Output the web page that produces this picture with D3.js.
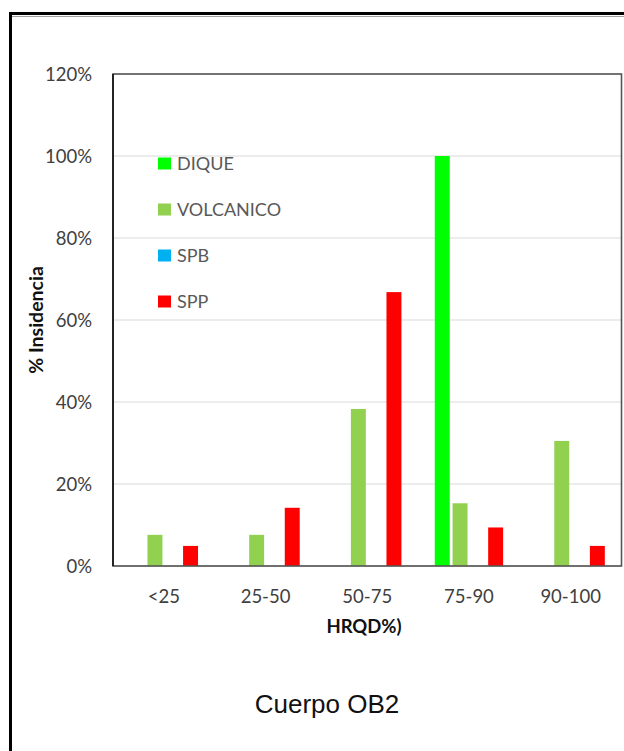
<!DOCTYPE html>
<html>
<head>
<meta charset="utf-8">
<script src="https://cdn.jsdelivr.net/npm/d3@7"></script>
<style>
  html, body { margin: 0; padding: 0; background: #fff; }
  svg { display: block; }
</style>
</head>
<body>
<svg id="chart" width="624" height="751"></svg>
<script>
const categories = ["<25", "25-50", "50-75", "75-90", "90-100"];
const seriesNames = ["DIQUE", "VOLCANICO", "SPB", "SPP"];
const dique     = [0, 0, 0, 1.00, 0];
const volcanico = [0.076, 0.076, 0.383, 0.153, 0.305];
const spb       = [0, 0, 0, 0, 0];
const spp       = [0.049, 0.142, 0.668, 0.094, 0.049];
const yTicks = [0, 0.2, 0.4, 0.6, 0.8, 1.0, 1.2];
const colors = ["#00ff00", "#92d050", "#00b0f0", "#ff0000"];
const title = "Cuerpo OB2";
const xTitle = "HRQD%)";
const yTitle = "% Insidencia";

const seriesValues = [dique, volcanico, spb, spp];
const rows = categories.map((c, i) => ({
  cat: c,
  vals: seriesNames.map((s, j) => ({ key: s, value: seriesValues[j][i], color: colors[j] }))
}));

const svg = d3.select("#chart");
const plot = { left: 113, right: 621.5, top: 74, bottom: 566 };
const FONT = "Lato, 'Open Sans', sans-serif";

// outer frame
svg.append("rect")
  .attr("x", 10.5).attr("y", 13.5)
  .attr("width", 700).attr("height", 800)
  .attr("fill", "none").attr("stroke", "#000").attr("stroke-width", 3);
svg.append("line")
  .attr("x1", 12).attr("x2", 624).attr("y1", 16.5).attr("y2", 16.5)
  .attr("stroke", "#a0a0a0").attr("stroke-width", 1);

const x0 = d3.scaleBand().domain(categories).range([plot.left, plot.right]).paddingInner(0).paddingOuter(0);
const bw = x0.bandwidth();
const x1 = d3.scaleBand().domain(seriesNames)
  .range([bw / 2 - 35.6, bw / 2 + 35.6])
  .paddingInner(0.16).paddingOuter(0.08);
const y = d3.scaleLinear().domain([0, 1.2]).range([plot.bottom, plot.top]);

// gridlines
svg.append("g")
  .selectAll("line")
  .data(yTicks.filter(t => t > 0))
  .join("line")
  .attr("x1", plot.left).attr("x2", plot.right)
  .attr("y1", d => y(d)).attr("y2", d => y(d))
  .attr("stroke", "#d9d9d9").attr("stroke-width", 1.2);

// x axis line
svg.append("line")
  .attr("x1", plot.left).attr("x2", plot.right)
  .attr("y1", plot.bottom).attr("y2", plot.bottom)
  .attr("stroke", "#d0d0d0").attr("stroke-width", 1.5);

// bars
const groups = svg.append("g").selectAll("g")
  .data(rows).join("g")
  .attr("transform", d => `translate(${x0(d.cat)},0)`);
groups.selectAll("rect")
  .data(d => d.vals.filter(v => v.value > 0))
  .join("rect")
  .attr("x", d => x1(d.key))
  .attr("width", x1.bandwidth())
  .attr("y", d => y(d.value))
  .attr("height", d => y(0) - y(d.value))
  .attr("fill", d => d.color);

// plot border
svg.append("rect")
  .attr("x", plot.left).attr("y", plot.top)
  .attr("width", plot.right - plot.left).attr("height", plot.bottom - plot.top)
  .attr("fill", "none").attr("stroke", "#555").attr("stroke-width", 1.6);
svg.append("line")
  .attr("x1", plot.left).attr("x2", plot.left)
  .attr("y1", plot.top).attr("y2", plot.bottom)
  .attr("stroke", "#111").attr("stroke-width", 1.6);

// y axis ticks labels
const yAxis = d3.axisLeft(y).tickValues(yTicks).tickFormat(d3.format(".0%")).tickSize(0).tickPadding(21);
const gy = svg.append("g").attr("transform", `translate(${plot.left},0)`).call(yAxis);
gy.select(".domain").remove();
gy.selectAll("text").attr("font-family", FONT).attr("font-size", 18.5).attr("fill", "#404040").attr("dy", "0.35em");

// x axis tick labels
const xAxis = d3.axisBottom(x0).tickSize(0).tickPadding(24);
const gx = svg.append("g").attr("transform", `translate(0,${plot.bottom})`).call(xAxis);
gx.select(".domain").remove();
gx.selectAll("text").attr("font-family", FONT).attr("font-size", 18.5).attr("fill", "#404040");

// axis titles
svg.append("text")
  .attr("x", 364).attr("y", 633)
  .attr("text-anchor", "middle")
  .attr("font-family", FONT).attr("font-weight", "bold").attr("font-size", 18.5)
  .attr("fill", "#111")
  .text(xTitle);
svg.append("text")
  .attr("transform", "translate(43,320) rotate(-90)")
  .attr("text-anchor", "middle")
  .attr("font-family", FONT).attr("font-weight", "bold").attr("font-size", 19.5)
  .attr("fill", "#111")
  .text(yTitle);

// legend
const legend = svg.append("g").selectAll("g")
  .data(seriesNames).join("g")
  .attr("transform", (d, i) => `translate(158,${164 + i * 46})`);
legend.append("rect")
  .attr("x", 0).attr("y", -6.5).attr("width", 13).attr("height", 12)
  .attr("fill", (d, i) => colors[i]);
legend.append("text")
  .attr("x", 19).attr("y", 0).attr("dy", "0.36em")
  .attr("font-family", FONT).attr("font-size", 18)
  .attr("fill", "#595959")
  .text(d => d);

// title
svg.append("text")
  .attr("x", 327).attr("y", 713)
  .attr("text-anchor", "middle")
  .attr("font-family", "'Liberation Sans', Arial, sans-serif").attr("font-size", 26)
  .attr("fill", "#111")
  .text(title);
</script>
</body>
</html>
